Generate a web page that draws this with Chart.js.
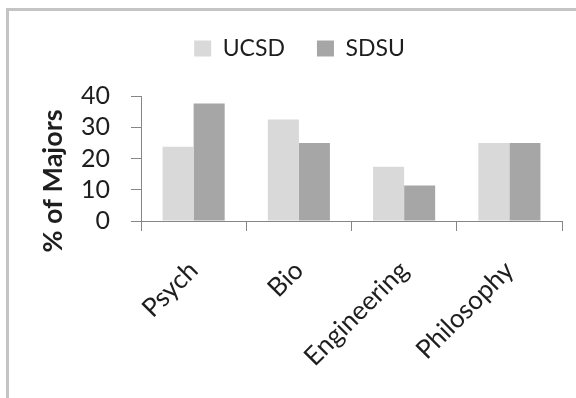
<!DOCTYPE html>
<html>
<head>
<meta charset="utf-8">
<script src="https://cdn.jsdelivr.net/npm/chart.js@4/dist/chart.umd.min.js"></script>
<style>
  html, body { margin: 0; padding: 0; background: #fff; }
  #wrap { width: 576px; height: 398px; position: relative; }
</style>
</head>
<body>
<div id="wrap"><canvas id="chart"></canvas></div>
<script>
// data
const majors = ['Psych', 'Bio', 'Engineering', 'Philosophy'];
const ucsd = [23.8, 32.5, 17.4, 25];
const sdsu = [37.6, 25, 11.4, 25];
const yTicks = [0, 10, 20, 30, 40];

const FONT = 'Lato, "Open Sans", sans-serif';
const TEXT = '#1e1e1e';
const AXIS = '#868686';

// light grey frame on the left / top edge
const framePlugin = {
  id: 'frame',
  beforeDraw(chart) {
    const c = chart.ctx;
    c.save();
    c.fillStyle = '#c4c4c4';
    c.fillRect(6, 8, 3, chart.height - 8);
    c.fillRect(6, 8, chart.width - 6, 3);
    c.restore();
  }
};

// extra room between legend and plot
const legendGap = {
  id: 'legendGap',
  beforeInit(chart) {
    const fit = chart.legend.fit;
    chart.legend.fit = function () {
      fit.call(this);
      this.height += 26;
    };
  }
};

// y axis title sits a bit lower than the plot centre in the original
const yTitlePlugin = {
  id: 'yTitle',
  afterDraw(chart) {
    const c = chart.ctx;
    c.save();
    c.translate(53, 181);
    c.rotate(-Math.PI / 2);
    c.font = 'bold 27px ' + FONT;
    c.fillStyle = TEXT;
    c.textAlign = 'center';
    c.textBaseline = 'middle';
    c.fillText('% of Majors', 0, 0);
    c.restore();
  }
};

const ctx = document.getElementById('chart');
new Chart(ctx, {
  type: 'bar',
  data: {
    labels: majors,
    datasets: [
      {label: 'UCSD', data: ucsd, backgroundColor: '#d9d9d9', borderWidth: 0},
      {label: 'SDSU', data: sdsu, backgroundColor: '#a6a6a6', borderWidth: 0}
    ]
  },
  options: {
    responsive: true,
    maintainAspectRatio: false,
    animation: false,
    layout: {padding: {top: 5, right: 14, left: 37, bottom: 0}},
    datasets: {bar: {barPercentage: 1, categoryPercentage: 0.59}},
    plugins: {
      legend: {
        position: 'top',
        labels: {
          boxWidth: 17, boxHeight: 16, padding: 32, color: TEXT,
          font: {family: FONT, size: 23}
        }
      },
      tooltip: {enabled: false}
    },
    scales: {
      x: {
        grid: {drawOnChartArea: false, color: AXIS, tickLength: 10, offset: true},
        border: {color: AXIS},
        ticks: {
          color: TEXT, font: {family: FONT, size: 26},
          maxRotation: 45, minRotation: 45, padding: 24
        },
        afterFit: s => { s.height = 177; }
      },
      y: {
        min: 0,
        max: 40,
        afterBuildTicks: s => { s.ticks = yTicks.map(v => ({value: v})); },
        grid: {drawOnChartArea: false, color: AXIS, tickLength: 10},
        border: {color: AXIS},
        ticks: {color: TEXT, font: {family: FONT, size: 25}, padding: 21, autoSkip: false},
        afterFit: s => { s.width = 104; }
      }
    }
  },
  plugins: [framePlugin, legendGap, yTitlePlugin]
});
</script>
</body>
</html>
